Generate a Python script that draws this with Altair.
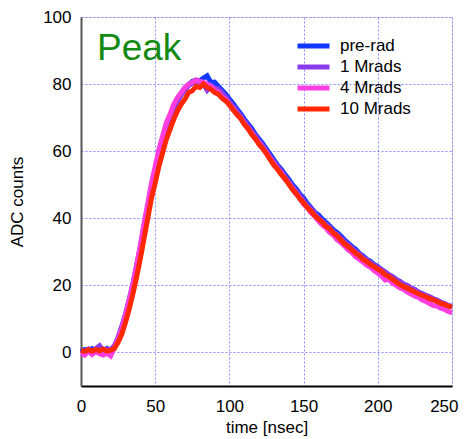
import altair as alt
import pandas as pd

time_ns = [i * 2.5 for i in range(101)]

series_names = ["pre-rad", "1 Mrads", "4 Mrads", "10 Mrads"]
series_colors = ["#1238ff", "#8a3cec", "#ff3ee0", "#ff2800"]

pre_rad = [0.3, 0.9, 0.5, 1.1, 0.4, 1.5, 0.6, 1.2, 0.5, 1.8,
           4.2, 7.5, 11.0, 15.5, 20.0, 25.5, 31.0, 37.5, 43.0, 49.0,
           54.0, 58.5, 63.0, 66.5, 70.0, 72.5, 75.0, 77.0, 78.5, 79.8,
           80.8, 81.2, 81.0, 81.8, 82.5, 80.5, 80.6, 79.4, 78.2, 77.0,
           75.5, 74.2, 72.6, 71.2, 69.6, 68.2, 66.8, 65.0, 63.6, 62.2,
           60.6, 59.0, 57.4, 55.8, 54.6, 53.0, 51.6, 50.0, 48.8, 47.2,
           46.0, 44.4, 43.2, 41.8, 41.0, 39.8, 38.8, 37.8, 36.6, 35.8,
           34.8, 33.6, 32.6, 31.6, 30.8, 29.6, 28.8, 27.8, 27.2, 26.2,
           25.6, 24.6, 24.0, 23.0, 22.4, 21.6, 20.8, 20.2, 19.6, 19.0,
           18.6, 17.8, 17.4, 16.8, 16.4, 15.8, 15.4, 14.8, 14.4, 13.8,
           13.6]

mrad_1 = [0.8, 0.2, 1.0, 0.3, 1.2, 2.0, 0.5, 1.0, 0.8, 2.0,
          4.5, 7.8, 11.5, 15.8, 20.5, 26.0, 31.5, 37.8, 43.5, 49.2,
          54.0, 58.8, 62.8, 66.8, 69.8, 72.8, 75.0, 76.8, 78.2, 79.6,
          80.2, 80.8, 80.6, 80.0, 78.2, 79.6, 78.8, 78.6, 77.4, 76.2,
          74.8, 73.4, 72.0, 70.6, 69.0, 67.6, 66.0, 64.6, 63.0, 61.6,
          60.0, 58.4, 56.8, 55.4, 54.0, 52.4, 51.0, 49.4, 48.2, 46.6,
          45.2, 43.8, 42.8, 41.6, 40.2, 39.2, 38.2, 37.4, 36.0, 35.2,
          34.2, 33.0, 32.2, 31.2, 30.2, 29.4, 28.4, 27.6, 26.8, 26.0,
          25.4, 24.8, 24.0, 23.2, 22.6, 21.8, 21.2, 20.4, 20.0, 19.2,
          18.8, 18.0, 17.6, 17.0, 16.6, 16.0, 15.6, 15.0, 14.6, 14.0,
          13.8]

mrad_4 = [-0.2, -0.8, 0.4, -0.6, 0.2, -0.4, -0.8, -0.2, -1.0, 1.5,
          4.0, 7.0, 11.0, 15.5, 20.5, 26.0, 32.0, 38.5, 44.5, 50.5,
          55.5, 60.5, 64.5, 68.5, 71.0, 74.0, 76.0, 77.5, 79.0, 80.0,
          80.5, 81.2, 80.8, 80.6, 80.0, 79.4, 78.2, 77.6, 76.2, 75.4,
          73.8, 72.6, 71.0, 69.8, 68.2, 66.6, 65.4, 63.6, 62.4, 60.8,
          59.6, 57.8, 56.2, 54.6, 53.4, 51.6, 50.4, 48.8, 47.2, 46.0,
          44.2, 43.2, 41.6, 40.6, 39.2, 38.0, 37.2, 35.8, 35.0, 33.6,
          32.8, 31.8, 30.6, 29.8, 28.6, 27.8, 27.0, 26.0, 25.4, 24.4,
          23.6, 22.8, 21.6, 21.8, 20.6, 20.0, 19.2, 18.8, 18.0, 17.4,
          16.8, 16.4, 15.6, 15.2, 14.6, 14.0, 13.8, 13.2, 12.8, 12.2,
          11.8]

mrad_10 = [0.6, 0.3, 0.8, 0.4, 0.9, 0.5, 1.0, 0.4, 0.7, 1.2,
           3.0, 5.5, 9.0, 13.0, 17.5, 22.5, 28.0, 34.0, 40.0, 46.0,
           50.5, 55.5, 59.5, 63.5, 66.5, 69.5, 72.0, 74.0, 75.5, 77.5,
           78.0, 79.3, 79.0, 80.0, 79.0, 78.5, 77.5, 77.0, 75.8, 75.0,
           73.8, 72.3, 71.0, 69.8, 68.0, 66.8, 65.0, 63.8, 62.0, 60.8,
           59.2, 57.5, 55.8, 54.6, 53.0, 51.8, 50.2, 48.6, 47.4, 45.8,
           44.6, 43.2, 42.2, 40.8, 39.8, 38.9, 37.6, 36.9, 35.6, 34.8,
           33.6, 32.4, 31.6, 30.6, 29.6, 28.9, 27.8, 27.2, 26.2, 25.6,
           24.8, 24.2, 23.2, 22.6, 21.8, 21.0, 20.2, 19.6, 19.2, 18.5,
           18.0, 17.5, 17.0, 16.6, 16.0, 15.7, 15.2, 14.6, 14.3, 13.8,
           13.5]

series_values = [pre_rad, mrad_1, mrad_4, mrad_10]

x_ticks = [0, 50, 100, 150, 200, 250]
y_ticks = [0, 20, 40, 60, 80, 100]

rows = []
for name, vals in zip(series_names, series_values):
    for t, v in zip(time_ns, vals):
        rows.append({"time": t, "adc": v, "series": name})
df = pd.DataFrame(rows)

label_df = pd.DataFrame({"time": [10.8], "adc": [87.2], "text": ["Peak"]})

FONT = "Liberation Sans"
GRID = "#8a8aff"

xscale = alt.Scale(domain=[0, 250], nice=False, zero=False)
yscale = alt.Scale(domain=[-10, 100], nice=False, zero=False)

color = alt.Color(
    "series:N",
    scale=alt.Scale(domain=series_names, range=series_colors),
    sort=series_names,
    legend=alt.Legend(
        title=None,
        orient="none",
        legendX=214,
        legendY=21,
        symbolType="stroke",
        symbolStrokeWidth=5,
        symbolSize=1024,
        clipHeight=16,
        labelFontSize=17,
        labelFont=FONT,
        labelColor="black",
        labelOffset=8,
        rowPadding=4,
        padding=0,
    ),
)

xenc = alt.X(
    "time:Q",
    scale=xscale,
    axis=alt.Axis(
        values=x_ticks,
        title="time [nsec]",
        ticks=False,
        labelFlush=False,
        labelAlign={"condition": {"test": "datum.value == 250", "value": "right"}, "value": "center"},
        labelOffset={"condition": {"test": "datum.value == 250", "value": 6}, "value": 0},
        domainColor="black",
        domainWidth=2,
        labelPadding=12,
        labelFontSize=17,
        labelFont=FONT,
        labelColor="black",
        titleFont=FONT,
        titleFontSize=17,
        titleFontWeight="normal",
        titleColor="black",
        titlePadding=5,
        grid=True,
        gridColor=GRID,
        gridDash=[2, 2],
        gridWidth=1,
    ),
)
yenc = alt.Y(
    "adc:Q",
    scale=yscale,
    axis=alt.Axis(
        values=y_ticks,
        title="ADC counts",
        ticks=False,
        labelFlush=False,
        domainColor="#555555",
        domainWidth=2,
        labelPadding=10,
        labelFontSize=17,
        labelFont=FONT,
        labelColor="black",
        titleFont=FONT,
        titleFontSize=17,
        titleFontWeight="normal",
        titleColor="black",
        titlePadding=16,
        grid=True,
        gridColor=GRID,
        gridDash=[2, 2],
        gridWidth=1,
    ),
)

layers = []
for name in series_names:
    layers.append(
        alt.Chart(df)
        .transform_filter(alt.datum.series == name)
        .mark_line(strokeWidth=5, strokeJoin="miter", strokeCap="butt")
        .encode(x=xenc, y=yenc, color=color)
    )

peak = (
    alt.Chart(label_df)
    .mark_text(align="left", baseline="alphabetic", fontSize=37, font=FONT, color="#138a13")
    .encode(x=alt.X("time:Q", scale=xscale), y=alt.Y("adc:Q", scale=yscale), text="text:N")
)

chart = (
    alt.layer(*layers, peak)
    .properties(
        width=371,
        height=369,
        autosize=alt.AutoSizeParams(type="none"),
        padding={"left": 73, "top": 9, "right": 7, "bottom": 52},
    )
    .configure_view(stroke=None)
    .configure(background="white")
)

chart.save("out.html", embed_options={"renderer": "svg", "actions": False})
